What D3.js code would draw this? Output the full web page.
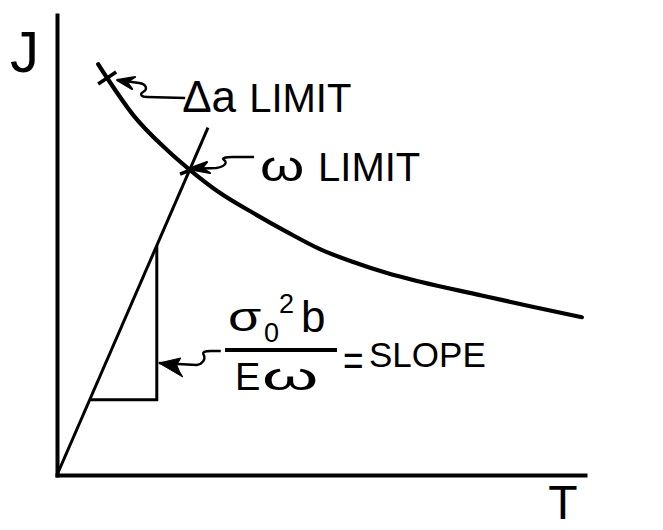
<!DOCTYPE html>
<html>
<head>
<meta charset="utf-8">
<script src="https://cdn.jsdelivr.net/npm/d3@7"></script>
<style>
  html, body { margin: 0; padding: 0; background: #fff; }
  svg { display: block; }
  text { font-family: "Liberation Sans", "DejaVu Sans", sans-serif; fill: #000; }
</style>
</head>
<body>
<svg id="chart" width="663" height="530"></svg>
<script>
// Limit curve J(T), read along its length
const curveT = [0.78, 0.95, 1.44, 2.08, 2.52, 3.09, 3.71, 4.36, 4.98, 5.61, 6.25, 6.88, 8.01, 8.96, 9.94];
const curveJ = [8.93, 8.63, 7.83, 7.07, 6.63, 6.13, 5.70, 5.28, 4.91, 4.63, 4.39, 4.20, 3.91, 3.67, 3.43];

// Straight line through the origin
const lineT = [0, 2.86];
const lineJ = [0, 7.55];

// Run of the slope triangle (its rise follows the line)
const triangleT = [0.62, 1.89];

// Points on the curve where each limit sits (index into curveT / curveJ)
const limitIndex = [1, 4];
const limitNames = ["LIMIT", "LIMIT"];

// Axis titles
const xTitle = "T";
const yTitle = "J";

const svg = d3.select("#chart");
svg.append("rect").attr("width", 663).attr("height", 530).attr("fill", "#fff");

const x = d3.scaleLinear().domain([0, 10]).range([57, 585]);
const y = d3.scaleLinear().domain([0, 10]).range([475, 15]);

// Axes: bare domain lines, no ticks
const xAxis = svg.append("g").attr("transform", `translate(0,${y(0)})`)
  .call(d3.axisBottom(x).tickValues([]).tickSizeOuter(0));
const yAxis = svg.append("g").attr("transform", `translate(${x(0)},0)`)
  .call(d3.axisLeft(y).tickValues([]).tickSizeOuter(0));
[xAxis, yAxis].forEach(g => g.select(".domain")
  .attr("stroke", "#000").attr("stroke-width", 4).attr("stroke-linecap", "square"));

svg.append("text").attr("x", x(0) - 47).attr("y", 72)
  .attr("font-size", 58).text(yTitle);
svg.append("text").attr("x", 563).attr("y", 519).attr("text-anchor", "middle")
  .attr("font-size", 48).text(xTitle);

// Curve
const curvePts = curveT.map((t, i) => ({ t, j: curveJ[i] }));
svg.append("path")
  .datum(curvePts)
  .attr("fill", "none").attr("stroke", "#000").attr("stroke-width", 4.2)
  .attr("stroke-linecap", "round")
  .attr("d", d3.line().x(d => x(d.t)).y(d => y(d.j)).curve(d3.curveMonotoneX));

// Straight line
const linePts = lineT.map((t, i) => ({ t, j: lineJ[i] }));
svg.append("path")
  .datum(linePts)
  .attr("fill", "none").attr("stroke", "#000").attr("stroke-width", 3)
  .attr("d", d3.line().x(d => x(d.t)).y(d => y(d.j)));

// Slope triangle
const slope = lineJ[1] / lineT[1];
const triPts = [
  { t: triangleT[0], j: slope * triangleT[0] },
  { t: triangleT[1], j: slope * triangleT[0] },
  { t: triangleT[1], j: slope * triangleT[1] }
];
svg.append("path")
  .datum(triPts)
  .attr("fill", "none").attr("stroke", "#000").attr("stroke-width", 3)
  .attr("d", d3.line().x(d => x(d.t)).y(d => y(d.j)));

// Limit markers: a short cross stroke on the curve, a wavy arrow and a label
const markers = limitIndex.map(i => ({ px: x(curveT[i]), py: y(curveJ[i]) }));

function crossTick(p, dx, dy) {
  svg.append("line")
    .attr("x1", p.px - dx).attr("y1", p.py - dy)
    .attr("x2", p.px + dx).attr("y2", p.py + dy)
    .attr("stroke", "#000").attr("stroke-width", 3.5);
}
function wavyArrow(tx, ty, shaft, head, filled) {
  const g = svg.append("g").attr("transform", `translate(${tx},${ty})`);
  g.append("path").attr("d", shaft).attr("fill", "none")
    .attr("stroke", "#000").attr("stroke-width", 2.4).attr("stroke-linejoin", "round");
  g.append("path").attr("d", head).attr("fill", "#000")
    .attr("stroke", "#000").attr("stroke-width", filled ? 1 : 2).attr("stroke-linejoin", "round");
}

// Δa limit
const m0 = markers[0];
crossTick(m0, 9, -6);
wavyArrow(m0.px + 10, m0.py + 2,
  "M0,0 L22,3 C29,4 31,9 26,12 C22,14 24,17 30,17 L68,18",
  "M18,-3 L0,0 L15,9 L10,2 Z", false);
svg.append("text").attr("x", m0.px + 75).attr("y", m0.py + 34)
  .attr("font-size", 44).text("Δa");
svg.append("text").attr("x", m0.px + 142).attr("y", m0.py + 34)
  .attr("font-size", 40).text(limitNames[0]);

// ω limit
const m1 = markers[1];
crossTick(m1, 10, -4);
wavyArrow(m1.px - 2, m1.py - 1,
  "M0,0 L28,-1 C36,-2 40,-6 36,-9 C33,-11 38,-12 44,-12 L66,-12",
  "M19,-7 L0,0 L22,4 L14,-1 Z", false);
svg.append("text").attr("transform", `translate(${m1.px + 70},${m1.py + 11}) scale(1.35,1)`)
  .attr("font-size", 42).text("ω");
svg.append("text").attr("x", m1.px + 128).attr("y", m1.py + 11)
  .attr("font-size", 40).text(limitNames[1]);

// Slope fraction σ0²b / Eω = SLOPE
const fracY = 350;
const tipX = x(triangleT[1]) + 2;
wavyArrow(tipX, fracY + 13,
  "M0,0 L38,2 C44,1 47,-4 45,-8 C43,-11 46,-12 52,-12 L62,-12",
  "M0,0 L22,-5 L18,2 Q20,8 24,14 Z", true);
svg.append("line").attr("x1", 225).attr("x2", 337).attr("y1", fracY).attr("y2", fracY)
  .attr("stroke", "#000").attr("stroke-width", 4);
svg.append("text").attr("transform", `translate(228,${fracY - 19}) scale(1.35,1)`)
  .attr("font-size", 40).text("σ");
svg.append("text").attr("x", 264).attr("y", fracY - 8).attr("font-size", 27).text("0");
svg.append("text").attr("x", 279).attr("y", fracY - 37).attr("font-size", 27).text("2");
svg.append("text").attr("x", 301).attr("y", fracY - 18).attr("font-size", 44).text("b");
svg.append("text").attr("x", 235).attr("y", fracY + 40).attr("font-size", 38).text("E");
svg.append("text").attr("transform", `translate(262,${fracY + 40}) scale(1.9,1)`)
  .attr("font-size", 38).text("ω");
svg.append("text").attr("transform", `translate(343,${fracY + 26}) scale(0.8,1)`)
  .attr("font-size", 44).text("=");
svg.append("text").attr("x", 369).attr("y", fracY + 17).attr("font-size", 35).text("SLOPE");
</script>
</body>
</html>
